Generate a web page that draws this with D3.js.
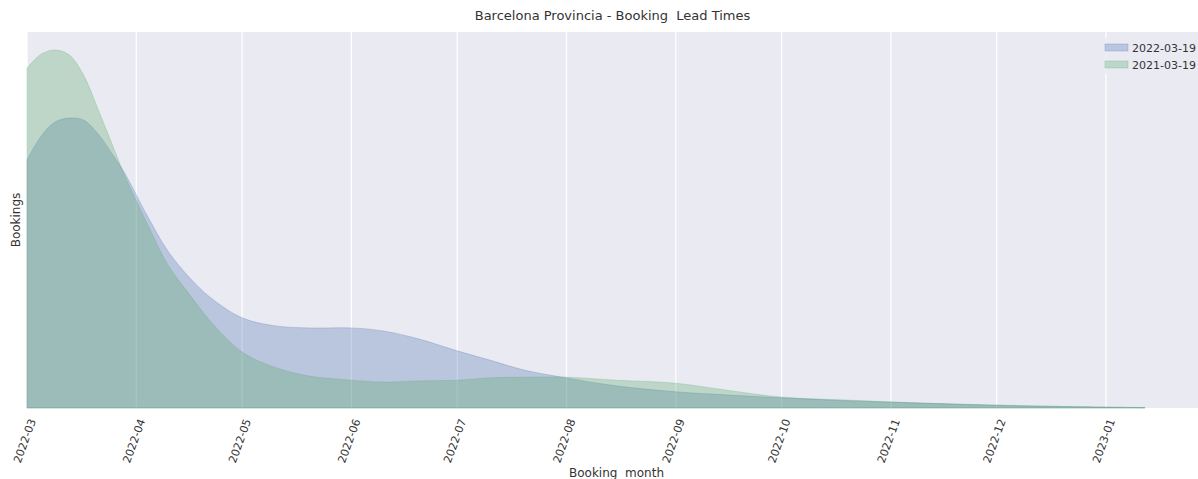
<!DOCTYPE html>
<html>
<head>
<meta charset="utf-8">
<script src="https://cdn.jsdelivr.net/npm/d3@7"></script>
<style>
  body { margin: 0; background: #fff; }
  text { font-family: "DejaVu Sans", sans-serif; fill: #333; }
</style>
</head>
<body>
<script>
// Chart data
var dates = ["2022-03-01", "2022-03-05", "2022-03-09", "2022-03-13", "2022-03-17",
  "2022-03-21", "2022-03-25", "2022-03-29", "2022-04-04", "2022-04-10",
  "2022-04-16", "2022-04-22", "2022-05-01", "2022-05-10", "2022-05-20",
  "2022-06-01", "2022-06-10", "2022-06-20", "2022-07-01", "2022-07-10",
  "2022-07-20", "2022-08-01", "2022-08-15", "2022-09-01", "2022-09-15",
  "2022-10-01", "2022-10-20", "2022-11-10", "2022-12-01", "2022-12-20",
  "2023-01-12"];
var bookings2022 = [66.0, 72.3, 76.1, 77.1, 76.6, 73.1, 67.8, 62.0, 51.3, 41.7,
  34.8, 29.4, 24.0, 21.9, 21.3, 21.3, 20.5, 18.4, 15.2, 12.8,
  10.1, 8.0, 5.9, 4.3, 3.5, 2.7, 1.9, 1.3, 0.7, 0.4, 0.1];
var bookings2021 = [90.4, 94.1, 95.2, 93.9, 88.6, 79.8, 70.5, 61.2, 49.2, 38.0,
  30.3, 23.1, 14.9, 10.9, 8.5, 7.4, 6.9, 7.2, 7.4, 8.0,
  8.2, 8.2, 7.4, 6.6, 4.8, 2.9, 2.1, 1.3, 0.8, 0.4, 0.1];
var seriesNames = ["2022-03-19", "2021-03-19"];
var seriesColors = ["#4c72b0", "#55a868"];
var tickMonths = ["2022-03", "2022-04", "2022-05", "2022-06", "2022-07", "2022-08",
  "2022-09", "2022-10", "2022-11", "2022-12", "2023-01"];

var svgWidth = 1198;
var svgHeight = 479;
var margin = { top: 32, right: 0, bottom: 71, left: 27 };
var width = svgWidth - margin.left - margin.right;
var height = svgHeight - margin.top - margin.bottom;

var parseDay = d3.timeParse("%Y-%m-%d");
var parseMonth = d3.timeParse("%Y-%m");

var svg = d3.select("body")
  .append("svg")
  .attr("width", svgWidth)
  .attr("height", svgHeight);

var chart = svg.append("g")
  .attr("transform", "translate(" + margin.left + "," + margin.top + ")");

// Scales
var xScale = d3.scaleTime()
  .domain([parseDay("2022-03-01"), parseDay("2023-01-01")])
  .range([0, 1079]);

var yScale = d3.scaleLinear()
  .domain([0, 100])
  .range([height, 0]);

// Background
chart.append("rect")
  .attr("width", width)
  .attr("height", height)
  .attr("fill", "#eaeaf2");

// Vertical grid lines
var tickDates = tickMonths.map(function (m) { return parseMonth(m); });
chart.selectAll(".grid")
  .data(tickDates)
  .enter().append("line")
  .attr("class", "grid")
  .attr("x1", function (d) { return xScale(d); })
  .attr("x2", function (d) { return xScale(d); })
  .attr("y1", 0)
  .attr("y2", height)
  .attr("stroke", "#fff")
  .attr("stroke-width", 1.2);

// Areas
var series = [bookings2022, bookings2021].map(function (vals, i) {
  return {
    name: seriesNames[i],
    color: seriesColors[i],
    points: dates.map(function (d, j) { return { date: parseDay(d), value: vals[j] }; })
  };
});

var area = d3.area()
  .curve(d3.curveCatmullRom.alpha(0.5))
  .x(function (d) { return xScale(d.date); })
  .y0(yScale(0))
  .y1(function (d) { return yScale(d.value); });

chart.selectAll(".kde")
  .data(series)
  .enter().append("path")
  .attr("class", "kde")
  .attr("d", function (d) { return area(d.points); })
  .attr("fill", function (d) { return d.color; })
  .attr("fill-opacity", 0.3)
  .attr("stroke", function (d) { return d.color; })
  .attr("stroke-opacity", 0.25)
  .attr("stroke-width", 1);

// X tick labels (rotated)
chart.selectAll(".tick-label")
  .data(tickDates)
  .enter().append("text")
  .attr("class", "tick-label")
  .attr("transform", function (d) {
    return "translate(" + (xScale(d) - 2) + "," + (height + 33) + ") rotate(-70)";
  })
  .attr("text-anchor", "middle")
  .attr("dominant-baseline", "central")
  .style("font-size", "11px")
  .text(function (d) { return d3.timeFormat("%Y-%m")(d); });

// Legend (kept inside the right edge)
var legend = chart.append("g")
  .attr("transform", "translate(" + (width - 100) + ",6)");

legend.append("rect")
  .attr("width", 100)
  .attr("height", 36)
  .attr("fill", "#eaeaf2")
  .attr("fill-opacity", 0.8);

series.forEach(function (s, i) {
  legend.append("rect")
    .attr("x", 7)
    .attr("y", 6 + i * 17)
    .attr("width", 23)
    .attr("height", 7)
    .attr("fill", s.color)
    .attr("fill-opacity", 0.3)
    .attr("stroke", s.color)
    .attr("stroke-opacity", 0.25);
  legend.append("text")
    .attr("x", 98)
    .attr("y", 10 + i * 17)
    .attr("text-anchor", "end")
    .attr("dominant-baseline", "central")
    .style("font-size", "11px")
    .text(s.name);
});

// Title
svg.append("text")
  .attr("x", margin.left + width / 2)
  .attr("y", 20)
  .attr("text-anchor", "middle")
  .style("font-size", "13px")
  .style("white-space", "pre")
  .text("Barcelona Provincia - Booking  Lead Times");

// Axis labels
svg.append("text")
  .attr("x", margin.left + width / 2 + 4)
  .attr("y", 477)
  .attr("text-anchor", "middle")
  .style("font-size", "12px")
  .style("white-space", "pre")
  .text("Booking  month");

svg.append("text")
  .attr("transform", "translate(20," + (margin.top + height / 2) + ") rotate(-90)")
  .attr("text-anchor", "middle")
  .style("font-size", "12px")
  .text("Bookings");
</script>
</body>
</html>
